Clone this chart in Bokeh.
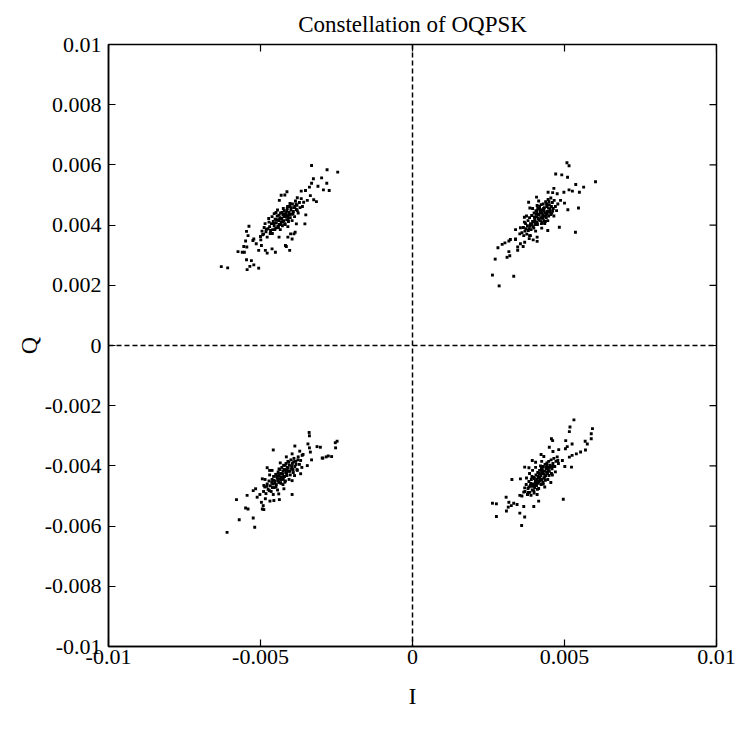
import numpy as np
from bokeh.plotting import figure
from bokeh.models import Span, FixedTicker, Range1d, CustomJSTickFormatter
from bokeh.embed import file_html
from bokeh.resources import INLINE

# Values in units of 1e-3
ul_i = [-3.32,-2.81,-2.46,-3.26,-2.99,-2.82,-3.32,-3.39,-3.11,-2.93,-2.74,-3.52,-3.66,-4.13,-4.32,-4.20,-3.25,-3.16,-3.46,-3.79,-4.38,-3.58,-3.36,
        -3.51,-3.82,-4.01,-3.90,-4.39,-4.10,-3.96,-4.18,-4.51,-4.04,-4.62,-4.78,-4.84,-4.97,-5.14,-5.22,-4.99,-5.41,-5.46,-5.38,-5.25,-5.49,-5.55,
        -5.45,-5.60,-5.74,-5.53,-5.06,-5.46,-5.30,-5.22,-5.35,-5.44,-5.06,-6.29,-6.08,-4.15,-3.54,-3.86,
        -5.00,-4.95,-4.90,-4.88,-4.82,-4.78,-4.75,-4.70,-4.68,-4.64,-4.60,-4.58,-4.55,-4.52,-4.50,-4.48,-4.45,-4.43,-4.40,-4.38,-4.36,-4.34,
        -4.32,-4.30,-4.28,-4.26,-4.24,-4.22,-4.20,-4.18,-4.16,-4.14,-4.12,-4.10,-4.08,-4.06,-4.04,-4.02,-4.00,-3.98,-3.95,-3.92,-3.90,-3.88,
        -3.85,-3.82,-3.80,-3.76,-3.72,-3.70,-3.66,-3.62,-4.62,-4.72,-4.44,-4.10,-3.96,-4.35,-4.85,-4.55,
        -4.47,-4.33,-4.21,-4.09,-4.57,-4.39,-4.27,-4.13,-3.99,-4.67,-4.81,-4.93,-4.41,-4.19,-3.93,-3.87,-4.03,-4.25,-4.49,-4.61,
        -4.73,-3.79,-4.15,-4.37,-4.29,-4.05,-3.83,-4.53,-4.11,-4.23]
ul_q = [5.98,5.84,5.76,5.54,5.57,5.39,5.39,5.26,5.29,5.17,5.15,5.15,5.13,5.11,4.99,5.00,4.84,4.78,4.82,4.91,4.82,4.76,4.98,
        4.34,4.04,3.71,3.71,3.60,3.60,3.54,3.32,3.10,3.16,3.21,3.07,3.16,3.32,3.38,3.54,3.51,3.65,3.79,3.96,3.49,3.47,3.29,
        3.27,3.10,3.12,3.10,3.16,2.85,2.82,2.68,2.63,2.52,2.57,2.62,2.58,3.29,4.04,3.76,
        3.62,3.80,3.70,3.92,3.78,3.60,3.88,3.95,3.72,4.05,3.85,4.12,3.98,4.20,3.90,4.08,4.30,3.96,4.15,4.02,4.25,4.40,
        4.10,4.22,3.98,4.35,4.15,4.48,4.05,4.28,4.40,4.18,4.55,4.30,4.12,4.42,4.62,4.25,4.50,4.36,4.70,4.45,4.58,4.28,
        4.80,4.52,4.66,4.40,4.75,4.58,4.88,4.62,4.28,4.10,4.50,3.95,4.15,3.85,4.05,4.38,
        4.18,4.02,4.37,4.22,4.05,4.33,4.12,4.47,4.58,3.82,3.86,3.68,3.92,4.02,4.38,4.62,4.72,4.55,4.42,3.72,
        4.22,4.48,4.33,4.20,4.42,4.35,4.70,3.85,4.62,4.28]

ur_i = [5.08,5.15,4.71,4.91,5.10,6.02,5.37,5.63,5.15,5.26,5.49,4.98,4.65,4.61,4.76,4.46,4.08,3.82,3.86,5.46,5.11,5.00,4.87,
        5.36,4.83,4.45,3.68,3.68,3.39,3.55,3.53,3.66,3.88,4.10,3.97,4.10,3.39,3.22,3.17,3.55,3.69,3.46,3.64,3.46,3.04,2.95,
        2.81,3.17,3.11,3.20,2.72,2.63,3.33,2.85,3.39,3.84,
        3.60,3.65,3.70,3.72,3.76,3.78,3.80,3.83,3.85,3.88,3.90,3.92,3.95,3.97,4.00,4.02,4.04,4.06,4.08,4.10,4.12,4.14,4.16,4.18,
        4.20,4.22,4.24,4.26,4.28,4.30,4.32,4.34,4.36,4.38,4.40,4.42,4.44,4.46,4.48,4.50,4.52,4.55,4.58,4.60,4.63,4.66,4.70,4.74,
        4.78,4.25,4.05,3.95,4.15,4.35,3.85,4.45,4.10,3.75,4.55,4.65,
        4.13,4.27,4.39,4.21,4.07,3.93,4.33,4.47,4.19,4.01,3.87,4.11,4.29,4.43,4.57,3.81,4.23,4.37,4.03,4.51,
        3.73,4.17,4.31,4.61,3.99,4.41,4.09,4.35,4.49,4.27]
ur_q = [6.07,5.97,5.70,5.67,5.59,5.44,5.35,5.26,5.17,5.13,5.09,5.09,5.22,5.08,5.04,5.09,4.93,4.76,4.57,4.57,4.51,4.73,4.82,
        3.76,3.93,3.82,4.26,4.10,3.85,3.91,3.71,3.65,3.65,3.60,3.51,3.46,3.54,3.52,3.47,3.38,3.43,3.27,3.29,3.16,3.41,3.36,
        3.25,3.12,2.93,2.98,2.87,2.34,2.30,1.98,3.52,3.55,
        3.75,3.92,3.80,4.05,3.70,3.98,4.15,3.88,4.25,4.05,3.85,4.32,4.12,3.95,4.40,4.20,4.02,4.48,4.28,4.10,4.55,4.35,4.18,4.62,
        4.42,4.25,4.05,4.50,4.32,4.70,4.15,4.58,4.40,4.78,4.25,4.62,4.45,4.85,4.30,4.68,4.52,4.90,4.40,4.75,4.55,4.82,4.62,4.48,
        4.70,3.90,3.80,4.55,4.80,4.05,3.65,4.15,4.65,4.30,4.35,4.30,
        4.22,4.41,4.33,4.15,4.37,4.02,4.48,4.57,4.52,4.27,3.96,4.02,4.23,4.38,4.62,3.82,4.68,4.12,4.12,4.43,
        3.88,4.33,4.55,4.47,3.90,4.70,4.45,4.29,4.78,4.08]

ll_i = [-3.40,-3.39,-2.48,-2.54,-3.44,-3.87,-4.58,-3.14,-3.03,-2.53,-3.39,-3.36,-3.71,-3.63,-2.77,-2.66,-2.95,-3.32,-3.46,-3.79,
        -3.68,-3.96,-4.20,-4.78,-4.70,-4.94,-4.89,-5.16,-5.24,-5.02,-5.11,-4.84,-4.69,-4.56,-4.40,-4.23,-4.38,-3.96,-4.97,-4.91,-4.94,
        -4.89,-5.44,-5.79,-5.49,-5.41,-5.24,-5.70,-5.19,-6.10,-2.97,-2.84,
        -4.90,-4.86,-4.82,-4.78,-4.75,-4.72,-4.68,-4.65,-4.62,-4.60,-4.57,-4.55,-4.52,-4.50,-4.48,-4.45,-4.42,-4.40,-4.38,-4.36,-4.34,
        -4.32,-4.30,-4.28,-4.26,-4.24,-4.22,-4.20,-4.18,-4.16,-4.14,-4.12,-4.10,-4.08,-4.05,-4.02,-4.00,-3.98,-3.95,-3.92,-3.90,-3.87,
        -3.84,-3.80,-3.76,-3.72,-3.68,-3.64,-3.60,-4.70,-4.58,-4.44,-4.26,-4.06,-3.88,-4.35,-4.85,-4.15,-3.96,-4.62,
        -4.31,-4.17,-4.43,-4.09,-4.53,-4.23,-4.37,-3.97,-4.61,-4.13,-4.27,-4.47,-3.83,-4.71,-4.19,-4.03,-4.41,-4.57,-3.91,-4.33,
        -4.07,-4.49,-4.25,-3.77,-4.63,-4.15,-4.39,-3.93,-4.79,-4.21]
ll_q = [-2.89,-3.00,-3.18,-3.23,-3.27,-3.34,-3.47,-3.36,-3.38,-3.40,-3.40,-3.54,-3.51,-3.65,-3.67,-3.69,-3.74,-3.80,-3.99,-4.15,
        -4.26,-4.49,-4.54,-4.06,-4.15,-4.43,-4.65,-4.76,-4.82,-4.95,-5.04,-5.09,-5.17,-5.15,-4.93,-4.76,-5.12,-4.95,-5.21,-5.32,-5.43,
        -5.45,-4.98,-5.12,-5.40,-5.43,-5.73,-5.79,-6.04,-6.21,-3.74,-3.70,
        -4.85,-4.70,-4.92,-4.60,-4.78,-4.50,-4.66,-4.85,-4.45,-4.60,-4.35,-4.72,-4.50,-4.28,-4.62,-4.40,-4.20,-4.55,-4.32,-4.12,-4.48,
        -4.25,-4.05,-4.40,-4.18,-3.98,-4.35,-4.12,-4.50,-3.92,-4.25,-4.05,-3.85,-4.18,-3.98,-4.30,-3.80,-4.10,-3.92,-4.22,-3.75,-4.02,
        -3.85,-4.12,-3.70,-3.95,-3.82,-4.05,-3.62,-4.30,-4.95,-4.80,-4.62,-4.45,-4.32,-3.90,-4.45,-3.70,-3.60,-4.15,
        -4.38,-4.22,-4.48,-4.08,-4.58,-4.12,-4.42,-4.02,-4.72,-4.32,-4.28,-4.35,-3.95,-4.82,-3.98,-4.18,-4.25,-4.48,-3.86,-4.58,
        -3.88,-4.70,-4.45,-3.80,-4.55,-4.15,-4.10,-4.12,-4.68,-4.35]

lr_i = [5.31,5.18,5.92,5.16,5.88,5.88,4.57,4.61,5.04,5.68,5.75,5.25,5.09,5.03,4.81,4.50,4.62,5.53,5.39,5.25,5.16,5.69,4.23,4.32,
        4.78,4.93,5.01,5.23,3.94,4.05,3.69,3.83,3.55,3.27,3.88,3.69,3.53,3.60,3.08,3.17,3.33,3.25,3.44,3.66,3.15,2.63,2.76,3.09,
        3.53,3.99,4.15,2.76,3.69,3.59,4.96,3.79,3.66,
        3.70,3.74,3.78,3.80,3.83,3.86,3.88,3.91,3.94,3.96,3.99,4.02,4.04,4.06,4.08,4.10,4.12,4.14,4.16,4.18,4.20,4.22,4.24,4.26,
        4.28,4.30,4.32,4.34,4.36,4.38,4.40,4.42,4.44,4.46,4.48,4.50,4.53,4.56,4.59,4.62,4.65,4.68,4.72,4.76,4.80,3.90,4.00,4.15,
        4.30,4.45,3.85,4.05,4.25,4.60,3.75,4.35,4.55,3.95,4.70,4.10,
        4.19,4.33,4.07,4.27,4.41,3.97,4.13,4.47,4.23,3.89,4.37,4.53,4.01,4.17,3.83,4.29,4.61,4.11,3.93,4.43,
        4.21,4.03,4.35,4.57,3.81,4.15,4.25,4.49,3.99,4.39]
lr_q = [-2.47,-2.71,-2.76,-2.86,-2.93,-3.10,-3.10,-3.16,-3.16,-3.18,-3.27,-3.27,-3.36,-3.43,-3.46,-3.38,-3.52,-3.54,-3.60,-3.65,
        -3.71,-3.47,-3.62,-3.69,-3.82,-3.82,-4.02,-4.04,-3.82,-3.88,-4.04,-4.06,-4.43,-4.45,-4.65,-4.73,-4.98,-5.00,-5.04,-5.21,-5.24,
        -5.32,-5.28,-5.35,-5.37,-5.24,-5.26,-5.50,-5.57,-5.35,-5.17,-5.68,-5.70,-5.98,-5.11,-4.95,-4.87,
        -4.85,-4.62,-4.95,-4.75,-4.52,-4.88,-4.68,-4.45,-4.80,-4.60,-4.38,-4.72,-4.52,-4.30,-4.65,-4.45,-4.22,-4.58,-4.38,-4.15,
        -4.50,-4.32,-4.08,-4.45,-4.25,-4.02,-4.40,-4.18,-3.95,-4.32,-4.10,-3.90,-4.25,-4.05,-3.85,-4.18,-3.98,-3.80,-4.10,-3.92,
        -3.75,-4.02,-3.85,-3.70,-3.92,-4.98,-4.90,-4.75,-4.60,-4.45,-4.25,-4.05,-3.85,-4.30,-4.40,-4.70,-4.55,-4.15,-4.20,-4.95,
        -4.42,-4.28,-4.55,-4.12,-4.20,-4.68,-4.35,-4.12,-4.62,-4.58,-4.48,-4.05,-4.42,-4.25,-4.70,-4.55,-4.02,-4.78,-4.35,-3.98,
        -4.00,-4.62,-4.38,-4.25,-4.88,-4.52,-4.22,-4.32,-4.82,-4.05]

x_ticks = [-0.01, -0.005, 0, 0.005, 0.01]
y_ticks = [-0.01, -0.008, -0.006, -0.004, -0.002, 0, 0.002, 0.004, 0.006, 0.008, 0.01]
x_min, x_max = -0.01, 0.01
y_min, y_max = -0.01, 0.01
title_text = "Constellation of OQPSK"
x_label = "I"
y_label = "Q"

FONT = "Liberation Serif"
SCALE = 1e-3

p = figure(width=737, height=729, x_range=Range1d(x_min, x_max), y_range=Range1d(y_min, y_max),
           output_backend="svg", toolbar_location=None, title=title_text,
           min_border_left=108, min_border_right=21, min_border_top=44, min_border_bottom=83,
           x_axis_label=x_label, y_axis_label=y_label)

p.title.align = "center"
p.title.text_font = FONT
p.title.text_font_size = "23px"
p.title.text_font_style = "normal"
p.title.text_color = "black"
p.title.standoff = 16

fmt = CustomJSTickFormatter(code="return String(Math.round(tick*1000)/1000);")

for ax in (p.xaxis[0], p.yaxis[0]):
    ax.major_label_text_font = FONT
    ax.major_label_text_font_size = "22px"
    ax.major_label_text_color = "black"
    ax.axis_label_text_font = FONT
    ax.axis_label_text_font_size = "24px"
    ax.axis_label_text_font_style = "normal"
    ax.axis_label_text_color = "black"
    ax.major_tick_in = 7
    ax.major_tick_out = 0
    ax.minor_tick_line_color = None
    ax.axis_line_color = "black"
    ax.axis_line_width = 1.5
    ax.major_tick_line_width = 1.2
    ax.formatter = fmt

p.xaxis[0].ticker = FixedTicker(ticks=x_ticks)
p.yaxis[0].ticker = FixedTicker(ticks=y_ticks)
p.xaxis[0].major_label_standoff = 3
p.yaxis[0].major_label_standoff = 7
p.xaxis[0].axis_label_standoff = 16
p.yaxis[0].axis_label_standoff = 0

p.xgrid.visible = False
p.ygrid.visible = False
p.outline_line_color = "black"
p.outline_line_width = 1.5

# inward tick marks on the top and right frame edges (half of each dash is clipped by the frame)
p.scatter(x_ticks, [y_max] * len(x_ticks), marker="dash", size=14, angle=np.pi / 2,
          line_color="black", line_width=1.2)
p.scatter([x_max] * len(y_ticks), y_ticks, marker="dash", size=14,
          line_color="black", line_width=1.2)

p.add_layout(Span(location=0, dimension="height", line_color="black", line_width=1.5, line_dash="5 3"))
p.add_layout(Span(location=0, dimension="width", line_color="black", line_width=1.5, line_dash="5 3"))

for xs, ys in ((ul_i, ul_q), (ur_i, ur_q), (ll_i, ll_q), (lr_i, lr_q)):
    p.scatter(np.array(xs) * SCALE, np.array(ys) * SCALE, marker="square", size=2.9,
              color="black", line_width=0)

open("out.html", "w").write(file_html(p, INLINE))
